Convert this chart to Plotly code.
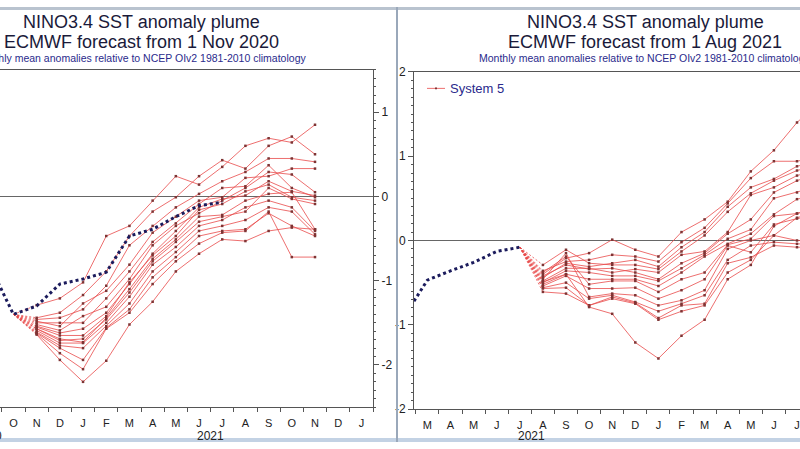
import plotly.graph_objects as go

# ---------------- data ----------------
MONTH_LETTERS = ["J", "F", "M", "A", "M", "J", "J", "A", "S", "O", "N", "D"]

# Left panel: ECMWF forecast from 1 Nov 2020 ; x = months after Nov 2020
left_start_cal = 10            # November (0-based calendar month)
left_obs_month = [-2, -1, 0, 1, 2, 3, 4, 5, 6, 7, 8]
left_obs = [-0.83, -1.40, -1.30, -1.04, -0.98, -0.90, -0.47, -0.39, -0.24, -0.11, -0.07]
left_fan_month = -1
left_fan_value = -1.40
left_fc_month = list(range(13))
left_members = [
    [-1.29, -1.21, -1.02, -0.47, -0.35, -0.05, 0.24, 0.14, 0.35, 0.60, 0.69, 0.64, 0.85],
    [-1.44, -1.38, -1.17, -0.89, -0.47, -0.18, -0.01, 0.24, 0.43, 0.33, 0.60, 0.71, 0.50],
    [-1.46, -1.44, -1.34, -1.06, -0.58, -0.35, -0.13, 0.03, 0.18, 0.29, 0.45, 0.45, 0.41],
    [-1.48, -1.54, -1.27, -1.12, -0.81, -0.43, -0.24, -0.05, -0.01, 0.22, 0.24, 0.33, 0.33],
    [-1.50, -1.50, -1.50, -1.21, -0.89, -0.54, -0.32, -0.09, 0.10, 0.12, 0.37, 0.10, -0.01],
    [-1.52, -1.59, -1.42, -1.31, -0.98, -0.58, -0.35, -0.20, -0.05, 0.10, 0.29, 0.26, 0.05],
    [-1.54, -1.62, -1.57, -1.38, -1.04, -0.68, -0.41, -0.13, -0.03, 0.01, 0.18, 0.06, 0.01],
    [-1.55, -1.65, -1.65, -1.42, -1.02, -0.70, -0.47, -0.16, -0.09, 0.06, 0.14, -0.01, -0.05],
    [-1.57, -1.69, -1.73, -1.44, -1.10, -0.74, -0.51, -0.24, -0.22, -0.05, 0.03, 0.05, -0.39],
    [-1.57, -1.71, -1.69, -1.46, -1.14, -0.77, -0.54, -0.30, -0.24, -0.18, 0.10, -0.03, -0.09],
    [-1.59, -1.74, -1.74, -1.50, -1.19, -0.81, -0.60, -0.35, -0.28, -0.13, -0.05, -0.13, -0.41],
    [-1.61, -1.77, -1.80, -1.54, -1.27, -0.89, -0.66, -0.41, -0.35, -0.28, -0.13, -0.18, -0.45],
    [-1.62, -1.80, -1.94, -1.56, -1.34, -0.96, -0.72, -0.47, -0.41, -0.39, -0.20, -0.35, -0.47],
    [-1.63, -1.86, -2.05, -1.57, -1.38, -1.04, -0.77, -0.56, -0.43, -0.41, -0.18, -0.72, -0.72],
    [-1.64, -1.94, -2.20, -1.95, -1.52, -1.25, -0.89, -0.68, -0.51, -0.53, -0.41, -0.37, -0.39],
]
left_label_months = list(range(-2, 15))
left_year_label = "2021"
left_year_pos = 7.5

# Right panel: ECMWF forecast from 1 Aug 2021 ; x = months after Aug 2021
right_start_cal = 7            # August
right_obs_month = [-6, -5, -4, -3, -2, -1]
right_obs = [-0.90, -0.47, -0.36, -0.26, -0.13, -0.08]
right_fan_month = -1
right_fan_value = -0.08
right_fc_month = list(range(13))
right_members = [
    [-0.40, -0.21, -0.15, 0.01, -0.11, -0.19, 0.10, 0.25, 0.46, 0.82, 1.07, 1.40, 1.65],
    [-0.36, -0.25, -0.23, -0.17, -0.19, -0.25, -0.02, 0.15, 0.44, 0.74, 0.94, 0.94, 1.00],
    [-0.44, -0.27, -0.31, -0.27, -0.23, -0.31, -0.08, 0.10, 0.40, 0.63, 0.73, 0.88, 0.95],
    [-0.29, -0.11, -0.27, -0.29, -0.29, -0.34, -0.13, 0.06, 0.34, 0.56, 0.71, 0.83, 0.90],
    [-0.48, -0.33, -0.33, -0.38, -0.34, -0.38, -0.17, -0.13, 0.10, 0.54, 0.63, 0.77, 0.85],
    [-0.42, -0.29, -0.34, -0.33, -0.38, -0.46, -0.27, -0.15, 0.08, 0.25, 0.57, 0.71, 0.80],
    [-0.50, -0.36, -0.38, -0.42, -0.42, -0.48, -0.33, -0.17, 0.02, 0.13, 0.50, 0.57, 0.65],
    [-0.52, -0.40, -0.46, -0.46, -0.46, -0.54, -0.38, -0.19, -0.04, 0.08, 0.31, 0.49, 0.55],
    [-0.38, -0.19, -0.52, -0.48, -0.48, -0.61, -0.46, -0.38, -0.05, 0.02, 0.29, 0.32, 0.40],
    [-0.54, -0.42, -0.57, -0.57, -0.56, -0.69, -0.59, -0.46, -0.06, -0.14, 0.19, 0.26, 0.30],
    [-0.46, -0.15, -0.67, -0.63, -0.65, -0.77, -0.71, -0.59, -0.10, 0.00, 0.06, 0.00, 0.00],
    [-0.56, -0.50, -0.69, -0.65, -0.73, -0.84, -0.75, -0.65, -0.23, -0.06, -0.02, -0.04, -0.04],
    [-0.57, -0.56, -0.77, -0.67, -0.74, -0.92, -0.77, -0.75, -0.27, -0.20, -0.06, -0.08, -0.08],
    [-0.61, -0.63, -0.77, -0.69, -0.75, -0.94, -0.84, -0.77, -0.38, -0.23, 0.06, 0.27, 0.35],
    [-0.49, -0.40, -0.79, -0.87, -1.21, -1.40, -1.13, -0.94, -0.46, -0.29, 0.17, 0.32, 0.40],
]
right_label_months = list(range(-6, 13))
right_year_label = "2021"
right_year_pos = -0.5

title_line1 = "NINO3.4 SST anomaly plume"
left_title_line2 = "ECMWF forecast from 1 Nov 2020"
right_title_line2 = "ECMWF forecast from 1 Aug 2021"
subtitle = "Monthly mean anomalies relative to NCEP OIv2 1981-2010 climatology"
legend_label = "System 5"

# ---------------- styling ----------------
W, H = 800, 449
FONT = "Liberation Sans, Arial, sans-serif"
RED = "rgba(232,75,75,0.8)"
FC_LINE = dict(color=RED, width=1)
FC_MARK = dict(symbol="square", size=2.5, color="#7e3434")
FAN_LINE = dict(color=RED, width=1, dash="2px,2px")
OBS_LINE = dict(color="#1b1b5c", width=3, dash="dot")
AX_COL = "#555555"


def px_x(p):
    return p / W


def px_y(p):
    return (H - p) / H


fig = go.Figure()


def add_panel(xa, ya, obs_m, obs_v, fan_m, fan_v, fc_m, members):
    for mem in members:
        fig.add_trace(go.Scatter(x=[fan_m, fc_m[0]], y=[fan_v, mem[0]], mode="lines",
                                 line=FAN_LINE, xaxis=xa, yaxis=ya, hoverinfo="skip"))
    for mem in members:
        fig.add_trace(go.Scatter(x=fc_m, y=mem, mode="lines+markers", line=FC_LINE,
                                 marker=FC_MARK, xaxis=xa, yaxis=ya))
    fig.add_trace(go.Scatter(x=obs_m, y=obs_v, mode="lines", line=OBS_LINE,
                             xaxis=xa, yaxis=ya))


add_panel("x", "y", left_obs_month, left_obs, left_fan_month, left_fan_value,
          left_fc_month, left_members)
add_panel("x2", "y2", right_obs_month, right_obs, right_fan_month, right_fan_value,
          right_fc_month, right_members)


def xaxis_cfg(domain, rng, label_months, start_cal, anchor):
    return dict(
        domain=domain, range=rng, anchor=anchor,
        tickmode="array", tickvals=label_months,
        ticktext=[MONTH_LETTERS[(start_cal + m) % 12] for m in label_months],
        ticks="", tickfont=dict(size=11, color="#222"), ticklabelstandoff=6,
        showgrid=False, zeroline=False,
        showline=True, linecolor=AX_COL, linewidth=1, mirror=True,
        minor=dict(tickmode="array", tickvals=[m + 0.5 for m in label_months],
                   ticks="outside", ticklen=4, tickcolor=AX_COL, showgrid=False),
        fixedrange=True,
    )


def yaxis_cfg(domain, rng, vals, side, anchor):
    return dict(
        domain=domain, range=rng, anchor=anchor, side=side,
        tickmode="array", tickvals=vals, ticktext=[str(v) for v in vals],
        ticks="outside", ticklen=5, tickcolor=AX_COL,
        tickfont=dict(size=12, color="#222"),
        showgrid=False, showline=True, linecolor=AX_COL, linewidth=1, mirror=False,
        zeroline=True, zerolinecolor="#666666", zerolinewidth=1,
        minor=dict(tickmode="linear", tick0=0, dtick=0.1, ticks="outside",
                   ticklen=2, tickcolor=AX_COL, showgrid=False),
        fixedrange=True,
    )


annotations = []
# titles
for cx, line2 in ((141, left_title_line2), (645, right_title_line2)):
    annotations.append(dict(text=title_line1, x=px_x(cx), y=px_y(15), xref="paper", yref="paper",
                            xanchor="center", yanchor="middle", showarrow=False,
                            font=dict(size=18, color="#1a1a3a")))
    annotations.append(dict(text=line2, x=px_x(cx), y=px_y(36), xref="paper", yref="paper",
                            xanchor="center", yanchor="middle", showarrow=False,
                            font=dict(size=18, color="#1a1a3a")))
annotations.append(dict(text=subtitle, x=px_x(308), y=px_y(53), xref="paper", yref="paper",
                        xanchor="right", yanchor="middle", showarrow=False,
                        font=dict(size=10.5, color="#2a2a8c")))
annotations.append(dict(text=subtitle, x=px_x(477), y=px_y(53), xref="paper", yref="paper",
                        xanchor="left", yanchor="middle", showarrow=False,
                        font=dict(size=10.5, color="#2a2a8c")))
# year labels
annotations.append(dict(text=left_year_label, x=left_year_pos, y=px_y(443), xref="x", yref="paper",
                        xanchor="center", yanchor="middle", showarrow=False,
                        font=dict(size=12, color="#222")))
annotations.append(dict(text=right_year_label, x=right_year_pos, y=px_y(443), xref="x2", yref="paper",
                        xanchor="center", yanchor="middle", showarrow=False,
                        font=dict(size=12, color="#222")))
annotations.append(dict(text="2020", x=px_x(4), y=px_y(443), xref="paper", yref="paper",
                        xanchor="right", yanchor="middle", showarrow=False,
                        font=dict(size=12, color="#222")))
# legend text
annotations.append(dict(text=legend_label, x=px_x(448), y=px_y(84), xref="paper", yref="paper",
                        xanchor="left", yanchor="middle", showarrow=False,
                        font=dict(size=13, color="#2a2a8c")))

shapes = [
    # legend sample
    dict(type="line", xref="paper", yref="paper", x0=px_x(427), x1=px_x(445),
         y0=px_y(84), y1=px_y(84), line=dict(color=RED, width=1)),
    dict(type="rect", xref="paper", yref="paper", x0=px_x(435), x1=px_x(437),
         y0=px_y(85), y1=px_y(83), fillcolor="#7e3434", line=dict(width=0)),
    # screenshot frame
    dict(type="rect", xref="paper", yref="paper", x0=0, x1=1, y0=px_y(3), y1=1,
         fillcolor="#b9c3cf", line=dict(width=0)),
    dict(type="rect", xref="paper", yref="paper", x0=0, x1=1, y0=0, y1=px_y(445),
         fillcolor="#c3d2e4", line=dict(width=0)),
    dict(type="rect", xref="paper", yref="paper", x0=px_x(396), x1=px_x(398), y0=0, y1=1,
         fillcolor="#9aa8ba", line=dict(width=0)),
]

fig.update_layout(
    width=W, height=H, margin=dict(l=0, r=0, t=0, b=0),
    paper_bgcolor="white", plot_bgcolor="white", showlegend=False,
    font=dict(family=FONT, size=12, color="#222"),
    xaxis=xaxis_cfg([0, px_x(373)], [-1.58, 14.5], left_label_months, left_start_cal, "y"),
    yaxis=yaxis_cfg([px_y(413), px_y(65)], [-2.5, 1.5], [-2, -1, 0, 1], "right", "x"),
    xaxis2=xaxis_cfg([px_x(414), 1], [-5.58, 11.13], right_label_months, right_start_cal, "y2"),
    yaxis2=yaxis_cfg([px_y(415), px_y(67)], [-2, 2], [-2, -1, 0, 1, 2], "left", "x2"),
    annotations=annotations, shapes=shapes,
)

fig.write_html("out.html")
